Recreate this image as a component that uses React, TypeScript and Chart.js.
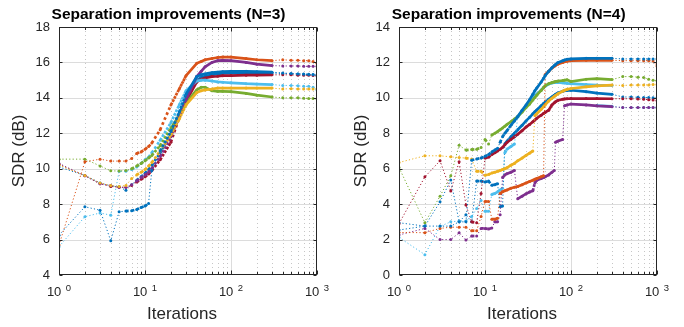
import { useEffect, useRef } from 'react';
import { Chart, registerables } from 'chart.js';

Chart.register(...registerables);

const FONT = '"Liberation Sans", Arial, Helvetica, sans-serif';
const TEXT = '#262626';

const C = {
  blue: '#0072BD',
  orange: '#D95319',
  yellow: '#EDB120',
  purple: '#7E2F8E',
  green: '#77AC30',
  cyan: '#4DBEEE',
  red: '#A2142F',
};

// ---------- shared axis data ----------
const xDecades = [1, 10, 100, 1000];
const xExponents = ['0', '1', '2', '3'];
const yTicksN3 = [4, 6, 8, 10, 12, 14, 16, 18];
const yTicksN4 = [0, 2, 4, 6, 8, 10, 12, 14];

// ---------- N=3 ----------
const itersN3 = [1, 2, 3, 4, 5, 6, 7, 8, 9, 10, 11, 12, 15, 20, 25, 30, 40, 45, 50, 60, 70, 80, 100, 150, 200, 300, 400, 500, 600, 700, 800, 900, 1000];
const n3BlueA = [6.25, 7.85, 7.66, 5.93, 7.57, 7.61, 7.63, 7.7, 7.81, 7.89, 8.04, 9.9, 11.0, 12.1, 13.2, 14.2, 15.2, 15.3, 15.35, 15.42, 15.45, 15.48, 15.5, 15.5, 15.48, 15.45, 15.4, 15.38, 15.35, 15.33, 15.32, 15.3, 15.28];
const n3Orange = [5.69, 10.39, 10.54, 10.43, 10.43, 10.43, 10.58, 10.86, 10.95, 11.1, 11.25, 11.45, 12.2, 13.6, 14.5, 15.25, 15.95, 16.05, 16.15, 16.22, 16.28, 16.3, 16.3, 16.22, 16.15, 16.1, 16.15, 16.12, 16.12, 16.1, 16.1, 16.05, 15.95];
const n3Yellow = [10.2, 9.62, 9.2, 9.05, 9.0, 9.05, 9.45, 9.65, 9.8, 9.95, 10.15, 10.35, 11.0, 11.9, 12.8, 13.6, 14.3, 14.4, 14.45, 14.5, 14.55, 14.55, 14.55, 14.55, 14.55, 14.55, 14.5, 14.52, 14.5, 14.5, 14.5, 14.5, 14.5];
const n3Purple = [10.3, 9.6, 9.15, 9.05, 8.95, 8.95, 9.1, 9.3, 9.5, 9.65, 9.8, 10.0, 10.7, 11.8, 12.9, 13.9, 15.2, 15.5, 15.75, 16.0, 16.1, 16.12, 16.1, 16.0, 15.9, 15.82, 15.8, 15.8, 15.8, 15.78, 15.78, 15.78, 15.78];
const n3Green = [10.54, 10.54, 10.16, 9.88, 9.87, 9.9, 10.0, 10.15, 10.3, 10.45, 10.6, 10.75, 11.3, 12.3, 13.0, 13.7, 14.45, 14.6, 14.6, 14.4, 14.37, 14.37, 14.35, 14.25, 14.15, 14.05, 14.0, 14.0, 14.0, 13.98, 13.97, 13.96, 13.95];
const n3Cyan = [5.6, 7.29, 7.5, 7.38, 9.85, 9.85, 9.95, 10.1, 10.3, 10.5, 10.65, 10.9, 11.6, 12.6, 13.6, 14.4, 14.95, 15.0, 15.0, 14.95, 14.9, 14.88, 14.85, 14.8, 14.78, 14.75, 14.7, 14.7, 14.68, 14.65, 14.65, 14.6, 14.45];
const n3Red = [10.25, 9.6, 9.15, 9.0, 8.95, 8.95, 9.05, 9.25, 9.4, 9.55, 9.7, 9.9, 10.5, 11.5, 12.9, 13.8, 14.9, 15.05, 15.12, 15.2, 15.22, 15.25, 15.26, 15.28, 15.28, 15.3, 15.3, 15.3, 15.28, 15.28, 15.27, 15.26, 15.25];
const n3BlueB = [10.1, 9.62, 9.2, 9.03, 8.98, 8.78, 9.1, 9.35, 9.55, 9.75, 9.95, 10.2, 10.9, 11.95, 13.1, 14.0, 15.0, 15.15, 15.22, 15.3, 15.35, 15.38, 15.4, 15.4, 15.4, 15.4, 15.38, 15.36, 15.35, 15.35, 15.33, 15.32, 15.3];

// ---------- N=4 ----------
const itersN4 = [1, 2, 3, 4, 5, 6, 7, 8, 9, 10, 11, 12, 13, 14, 15, 16, 17, 18, 20, 22, 24, 27, 30, 33, 36, 38, 40, 45, 48, 50, 55, 60, 64, 66, 70, 80, 84, 90, 100, 150, 200, 300, 400, 500, 600, 700, 800, 900, 1000];
const n4Blue1 = [2.54, 2.76, 2.76, 2.76, 3.0, 3.0, 6.48, 6.55, 6.6, 6.7, 6.8, 6.95, 7.05, 7.15, 7.5, 7.8, 8.0, 8.15, 8.45, 8.7, 8.95, 9.3, 9.6, 9.9, 10.2, 10.4, 10.55, 10.9, 11.1, 11.25, 11.5, 11.7, 11.82, 11.88, 11.98, 12.1, 12.14, 12.18, 12.2, 12.23, 12.23, 12.23, 12.2, 12.2, 12.2, 12.2, 12.2, 12.2, 12.2];
const n4Orange = [2.4, 2.39, 2.63, 2.7, 2.7, 2.7, 2.5, 2.5, 3.3, 4.15, 4.15, 3.15, 3.15, 3.2, 4.6, 4.7, 4.75, 4.8, 4.9, 4.95, 5.0, 5.1, 5.2, 5.28, 5.35, 5.4, 5.45, 5.55, 5.6, 11.3, 11.5, 11.68, 11.78, 11.83, 11.9, 12.0, 12.04, 12.07, 12.1, 12.12, 12.12, 12.12, 12.1, 12.1, 12.1, 12.1, 12.1, 12.08, 11.8];
const n4Yellow = [6.35, 6.73, 6.73, 6.67, 6.63, 6.6, 6.55, 5.85, 5.85, 5.63, 5.67, 5.76, 5.8, 5.85, 5.9, 5.95, 6.0, 6.05, 6.2, 6.3, 6.45, 6.6, 6.75, 6.88, 7.0, 9.0, 9.1, 9.35, 9.5, 9.6, 9.82, 9.98, 10.08, 10.13, 10.22, 10.38, 10.43, 10.48, 10.53, 10.62, 10.68, 10.72, 10.7, 10.72, 10.72, 10.73, 10.73, 10.75, 10.75];
const n4Purple = [2.26, 2.63, 2.0, 2.0, 2.38, 1.97, 2.2, 2.2, 2.63, 2.63, 2.6, 2.65, 3.0, 3.0, 3.4, 5.5, 5.65, 5.72, 5.8, 5.9, 4.3, 4.45, 4.58, 4.68, 4.75, 5.2, 5.35, 5.45, 5.5, 5.55, 5.65, 5.8, 5.9, 7.5, 7.55, 7.65, 9.55, 9.6, 9.65, 9.6, 9.55, 9.5, 9.45, 9.45, 9.45, 9.45, 9.45, 9.45, 9.45];
const n4Green = [6.07, 2.95, 4.45, 5.6, 7.33, 7.05, 7.08, 7.1, 7.2, 7.65, 7.4, 7.9, 8.0, 8.1, 8.2, 8.3, 8.4, 8.5, 8.65, 8.8, 8.95, 9.2, 9.45, 9.65, 9.88, 10.02, 10.15, 10.42, 10.58, 10.68, 10.8, 10.86, 10.9, 10.92, 10.94, 10.98, 11.0, 11.02, 10.92, 11.05, 11.08, 11.03, 11.2, 11.2, 11.17, 11.15, 11.05, 11.0, 10.97];
const n4Cyan = [2.12, 1.15, 2.75, 3.0, 3.05, 3.05, 3.3, 3.75, 4.2, 3.6, 3.6, 4.55, 4.6, 4.7, 4.8, 4.9, 6.9, 7.1, 7.25, 7.4, 8.9, 9.25, 9.55, 9.8, 10.0, 10.12, 10.22, 10.45, 10.58, 10.65, 10.78, 10.84, 10.86, 10.87, 10.87, 10.85, 10.84, 10.82, 10.8, 10.75, 10.72, 10.7, null, null, null, null, null, null, null];
const n4Red = [2.9, 5.54, 6.45, 4.74, 6.4, 3.95, 3.0, 2.95, 4.6, 6.6, 6.65, 6.8, 6.9, 7.0, 7.1, 7.2, 7.35, 7.48, 7.65, 7.8, 7.95, 8.15, 8.35, 8.5, 8.65, 8.75, 8.85, 9.02, 9.12, 9.18, 9.3, 9.6, 9.72, 9.78, 9.85, 9.92, 9.94, 9.95, 9.96, 9.96, 9.96, 9.95, 9.95, 9.95, 9.93, 9.92, 9.9, 9.88, 9.85];
const n4Blue2 = [2.95, 2.76, 4.13, 5.36, 3.0, 3.4, 3.0, 5.3, 5.3, 5.25, 5.3, 5.07, 5.1, 5.15, 3.85, 3.9, 7.4, 7.55, 7.8, 8.0, 8.2, 8.45, 8.7, 8.9, 9.1, 9.22, 9.32, 9.55, 9.68, 9.75, 9.92, 10.05, 10.15, 10.2, 10.27, 10.37, 10.4, 10.42, 10.43, 10.35, 10.27, 10.2, 10.05, 10.05, 10.03, 10.02, 10.02, 10.0, 10.0];
const n4Cyan2 = [null, null, null, null, null, null, null, null, null, null, null, null, null, null, null, null, null, null, null, null, null, null, null, null, null, null, null, null, null, null, null, null, null, null, null, null, null, null, null, null, 9.57, 9.52, 9.45, 9.45, 9.45, 9.45, 9.45, 9.45, 9.45];

type Series = { name: string; color: string; values: (number | null)[] };
type Panel = {
  title: string;
  iters: number[];
  series: Series[];
  yTicks: number[];
  yAxisWidth: number;
  padRight: number;
  titleX: number;
  xLabelX: number;
};

const panels: Panel[] = [
  {
    title: 'Separation improvements (N=3)',
    iters: itersN3,
    series: [
      { name: 'a', color: C.blue, values: n3BlueA },
      { name: 'b', color: C.orange, values: n3Orange },
      { name: 'c', color: C.yellow, values: n3Yellow },
      { name: 'd', color: C.purple, values: n3Purple },
      { name: 'e', color: C.green, values: n3Green },
      { name: 'f', color: C.cyan, values: n3Cyan },
      { name: 'g', color: C.red, values: n3Red },
      { name: 'h', color: C.blue, values: n3BlueB },
    ],
    yTicks: yTicksN3,
    yAxisWidth: 59,
    padRight: 25,
    titleX: 168.5,
    xLabelX: 182,
  },
  {
    title: 'Separation improvements (N=4)',
    iters: itersN4,
    series: [
      { name: 'a', color: C.blue, values: n4Blue1 },
      { name: 'b', color: C.orange, values: n4Orange },
      { name: 'c', color: C.yellow, values: n4Yellow },
      { name: 'd', color: C.purple, values: n4Purple },
      { name: 'e', color: C.green, values: n4Green },
      { name: 'f', color: C.cyan, values: n4Cyan },
      { name: 'g', color: C.red, values: n4Red },
      { name: 'h', color: C.blue, values: n4Blue2 },
      { name: 'i', color: C.cyan, values: n4Cyan2 },
    ],
    yTicks: yTicksN4,
    yAxisWidth: 57,
    padRight: 27,
    titleX: 166.7,
    xLabelX: 180,
  },
];

function framePlugin(p: Panel) {
  return {
    id: 'matlabFrame',
    beforeDatasetsDraw(chart: any) {
      const { ctx, chartArea: a } = chart;
      const x = chart.scales.x;
      const y = chart.scales.y;
      ctx.save();
      ctx.lineWidth = 1;
      ctx.strokeStyle = '#c6c6c6';
      ctx.setLineDash([1, 3]);
      for (let i = 0; i < xDecades.length - 1; i++) {
        for (let k = 2; k <= 9; k++) {
          const px = Math.round(x.getPixelForValue(xDecades[i] * k)) + 0.5;
          ctx.beginPath();
          ctx.moveTo(px, a.top);
          ctx.lineTo(px, a.bottom);
          ctx.stroke();
        }
      }
      ctx.setLineDash([]);
      ctx.strokeStyle = '#dcdcdc';
      xDecades.slice(1, -1).forEach((v) => {
        const px = Math.round(x.getPixelForValue(v)) + 0.5;
        ctx.beginPath();
        ctx.moveTo(px, a.top);
        ctx.lineTo(px, a.bottom);
        ctx.stroke();
      });
      p.yTicks.slice(1, -1).forEach((v) => {
        const py = Math.round(y.getPixelForValue(v)) + 0.5;
        ctx.beginPath();
        ctx.moveTo(a.left, py);
        ctx.lineTo(a.right, py);
        ctx.stroke();
      });
      ctx.restore();
    },
    afterDraw(chart: any) {
      const { ctx, chartArea: a } = chart;
      const x = chart.scales.x;
      const y = chart.scales.y;
      const L = Math.round(a.left) + 0.5;
      const R = Math.round(a.right) - 0.5;
      const T = Math.round(a.top) + 0.5;
      const B = Math.round(a.bottom) - 0.5;
      ctx.save();
      ctx.strokeStyle = TEXT;
      ctx.lineWidth = 1;
      ctx.setLineDash([]);
      ctx.strokeRect(L, T, R - L, B - T);
      ctx.beginPath();
      for (let i = 0; i < xDecades.length; i++) {
        const px = Math.round(x.getPixelForValue(xDecades[i])) + 0.5;
        ctx.moveTo(px, B); ctx.lineTo(px, B - 4);
        ctx.moveTo(px, T); ctx.lineTo(px, T + 4);
        if (i < xDecades.length - 1) {
          for (let k = 2; k <= 9; k++) {
            const qx = Math.round(x.getPixelForValue(xDecades[i] * k)) + 0.5;
            ctx.moveTo(qx, B); ctx.lineTo(qx, B - 2.5);
            ctx.moveTo(qx, T); ctx.lineTo(qx, T + 2.5);
          }
        }
      }
      p.yTicks.forEach((v) => {
        const py = Math.round(y.getPixelForValue(v)) + 0.5;
        ctx.moveTo(L, py); ctx.lineTo(L + 3, py);
        ctx.moveTo(R, py); ctx.lineTo(R - 3, py);
      });
      ctx.stroke();

      ctx.fillStyle = TEXT;
      ctx.textBaseline = 'alphabetic';
      ctx.textAlign = 'left';
      xDecades.forEach((v, i) => {
        const px = x.getPixelForValue(v);
        ctx.font = `13px ${FONT}`;
        const w1 = ctx.measureText('10').width;
        ctx.font = `9.5px ${FONT}`;
        const w2 = ctx.measureText(xExponents[i]).width;
        const gap = 4.5;
        const left = px - (w1 + gap + w2) / 2;
        ctx.font = `13px ${FONT}`;
        ctx.fillText('10', left, 296);
        ctx.font = `9.5px ${FONT}`;
        ctx.fillText(xExponents[i], left + w1 + gap, 290.5);
      });

      ctx.font = `17px ${FONT}`;
      ctx.textAlign = 'center';
      ctx.fillText('Iterations', p.xLabelX, 319);
      ctx.save();
      ctx.translate(23.5, (a.top + a.bottom) / 2);
      ctx.rotate(-Math.PI / 2);
      ctx.fillText('SDR (dB)', 0, 0);
      ctx.restore();

      ctx.fillStyle = '#000';
      ctx.font = `bold 15.5px ${FONT}`;
      ctx.fillText(p.title, p.titleX, 19);
      ctx.restore();
    },
  };
}

const MARK = 2.7; // visual size of the '.' markers
const THIN_DASH = [1.2, 2.2];

function buildConfig(p: Panel): any {
  // style of a segment: emulate the dense '.' markers of the recorded iterations
  const segStyle = (ctx: any): { w: number; dash: number[] } => {
    const a = p.iters[ctx.p0DataIndex];
    const b = p.iters[ctx.p1DataIndex];
    const dx = Math.abs(ctx.p1.x - ctx.p0.x);
    const dy = Math.abs(ctx.p1.y - ctx.p0.y);
    if (b > 300 || dy > 3 * dx + 2) return { w: 1, dash: THIN_DASH };
    const spacing = Math.hypot(dx, dy) / (b - a);
    if (spacing > 6) return { w: 1, dash: THIN_DASH };
    if (spacing <= MARK) return { w: MARK, dash: [] };
    return { w: MARK, dash: [MARK, spacing - MARK] };
  };
  const datasets = p.series.map((s) => ({
    label: s.name,
    data: p.iters.map((it, i) => ({ x: it, y: s.values[i] })),
    borderColor: s.color,
    backgroundColor: s.color,
    pointBackgroundColor: s.color,
    pointBorderWidth: 0,
    pointRadius: 1.5,
    pointHoverRadius: 0,
    borderWidth: 1,
    borderDash: THIN_DASH,
    borderCapStyle: 'butt',
    tension: 0,
    fill: false,
    spanGaps: false,
    segment: {
      borderWidth: (ctx: any) => segStyle(ctx).w,
      borderDash: (ctx: any) => segStyle(ctx).dash,
    },
  }));
  return {
    type: 'line',
    data: { datasets },
    options: {
      animation: false,
      responsive: false,
      events: [],
      layout: { padding: { left: 0, right: p.padRight, top: 27, bottom: 0 } },
      plugins: { legend: { display: false }, tooltip: { enabled: false }, title: { display: false } },
      scales: {
        x: {
          type: 'logarithmic',
          min: xDecades[0],
          max: xDecades[xDecades.length - 1],
          grid: { display: false, drawTicks: false },
          border: { display: false },
          ticks: { display: false },
          afterFit: (s: any) => { s.height = 52; },
        },
        y: {
          type: 'linear',
          min: p.yTicks[0],
          max: p.yTicks[p.yTicks.length - 1],
          grid: { display: false, drawTicks: false },
          border: { display: false },
          afterBuildTicks: (s: any) => { s.ticks = p.yTicks.map((v) => ({ value: v })); },
          ticks: {
            color: TEXT,
            padding: 9,
            font: { family: FONT, size: 13 },
            callback: (v: any) => String(v),
          },
          afterFit: (s: any) => { s.width = p.yAxisWidth; },
        },
      },
    },
    plugins: [framePlugin(p)],
  };
}

function PanelChart({ panel }: { panel: Panel }) {
  const ref = useRef<HTMLCanvasElement | null>(null);
  useEffect(() => {
    if (!ref.current) return;
    const chart = new Chart(ref.current, buildConfig(panel));
    return () => chart.destroy();
  }, [panel]);
  return <canvas ref={ref} width={342} height={327} style={{ width: 342, height: 327, display: 'block' }} />;
}

export default function App() {
  return (
    <div style={{ position: 'absolute', left: 0, top: 0, width: 684, height: 327, display: 'flex', background: '#fff' }}>
      {panels.map((p) => (
        <PanelChart key={p.title} panel={p} />
      ))}
    </div>
  );
}
